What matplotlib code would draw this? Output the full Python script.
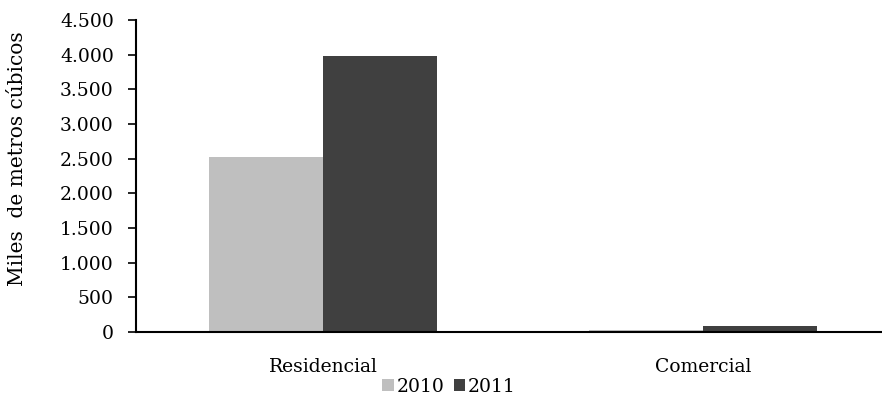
import numpy as np
import matplotlib.pyplot as plt
from matplotlib.ticker import FuncFormatter

plt.rcParams['font.family'] = ['DejaVu Serif']

categorias = ['Residencial', 'Comercial']
anos = ['2010', '2011']
v2010 = [2520, 35]
v2011 = [3985, 85]
colores = ['#bfbfbf', '#404040']

fig = plt.figure(figsize=(8.82, 4), dpi=100)
ax = fig.add_axes([136/882, 68/400, 746/882, 312/400])

x = np.arange(len(categorias))
w = 0.3
ax.bar(x - w/2, v2010, w, color=colores[0], label=anos[0])
ax.bar(x + w/2, v2011, w, color=colores[1], label=anos[1])

ax.set_xlim(-187/380, -187/380 + 746/380)
ax.set_ylim(0, 4500)
ax.set_yticks(np.arange(0, 4501, 500))
ax.yaxis.set_major_formatter(FuncFormatter(lambda v, p: f'{int(v):,}'.replace(',', '.')))
ax.set_xticks(x)
ax.set_xticklabels(categorias)
ax.tick_params(axis='x', length=0, pad=19, labelsize=13.5)
ax.tick_params(axis='y', length=6, width=1.2, labelsize=13.5, pad=10)
for s in ['top', 'right']:
    ax.spines[s].set_visible(False)
ax.spines['left'].set_linewidth(1.5)
ax.spines['bottom'].set_linewidth(1.5)
ax.set_ylabel('Miles  de metros cúbicos', fontsize=14.5)
ax.yaxis.set_label_coords(27/882, 1 - 159/400, transform=fig.transFigure)

ax.legend(loc='center', bbox_to_anchor=(449/882, 1 - 387/400), bbox_transform=fig.transFigure,
          ncol=2, frameon=False, fontsize=13.5, handlelength=0.6, handleheight=0.6,
          handletextpad=0.15, columnspacing=0.5, borderaxespad=0, borderpad=0)

fig.savefig('out.png', dpi=100)
